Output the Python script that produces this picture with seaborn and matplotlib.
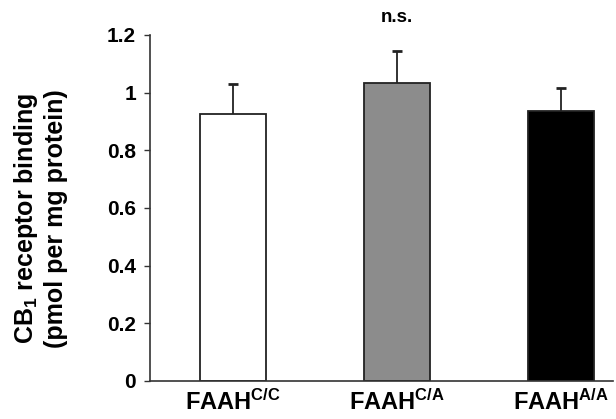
import matplotlib
matplotlib.use('Agg')
import matplotlib.pyplot as plt
import seaborn as sns
import numpy as np
import pandas as pd

# data
genotypes = ['FAAH$^{\\mathbf{C/C}}$', 'FAAH$^{\\mathbf{C/A}}$', 'FAAH$^{\\mathbf{A/A}}$']
binding = [0.925, 1.035, 0.935]
sem = [0.105, 0.11, 0.08]
bar_colors = ['white', '#8c8c8c', 'black']

sns.set_style('white')
plt.rcParams['font.family'] = ['Liberation Sans', 'DejaVu Sans']
plt.rcParams['font.weight'] = 'bold'
plt.rcParams['mathtext.fontset'] = 'custom'
plt.rcParams['mathtext.rm'] = 'Liberation Sans:bold'
plt.rcParams['mathtext.bf'] = 'Liberation Sans:bold'
plt.rcParams['mathtext.it'] = 'Liberation Sans:bold'
plt.rcParams['text.color'] = 'black'
plt.rcParams['axes.labelcolor'] = 'black'
plt.rcParams['xtick.color'] = 'black'
plt.rcParams['ytick.color'] = 'black'

df = pd.DataFrame({'genotype': genotypes, 'binding': binding})

fig = plt.figure(figsize=(6.16, 4.19), dpi=100)
ax = fig.add_axes([0.2435, 0.0907, 0.7515, 0.8258])

sns.barplot(data=df, x='genotype', y='binding', hue='genotype', palette=bar_colors,
            width=0.4, edgecolor='#222222', linewidth=1.3, legend=False, ax=ax)

# upper-only error bars with a cap at the top
x = np.arange(len(binding))
tops = np.array(binding) + np.array(sem)
ax.vlines(x, binding, tops, color='#222222', linewidth=1.3)
ax.plot(x, tops, linestyle='none', marker='_', markersize=7, markeredgewidth=2,
        color='#222222')

ax.set_ylim(0, 1.2)
ax.set_xlim(-0.506, 2.317)
ax.set_yticks([0, 0.2, 0.4, 0.6, 0.8, 1.0, 1.2])
ax.set_yticklabels(['0', '0.2', '0.4', '0.6', '0.8', '1', '1.2'])
ax.tick_params(axis='y', direction='out', length=4, width=1, labelsize=15,
               color='#333333', labelcolor='black', pad=6, left=True)
ax.tick_params(axis='x', length=0, labelsize=17, labelcolor='black', pad=6)
for lab in ax.get_yticklabels() + ax.get_xticklabels():
    lab.set_fontweight('bold')
ax.set_xlabel('')
ax.set_ylabel('CB$_1$ receptor binding\n(pmol per mg protein)', fontsize=18,
              fontweight='bold', color='black')
ax.yaxis.set_label_coords(-0.178, 0.47)
sns.despine(ax=ax)
for s in ['left', 'bottom']:
    ax.spines[s].set_color('#333333')
    ax.spines[s].set_linewidth(1.2)

ax.text(1, 1.26, 'n.s.', ha='center', va='center', fontsize=13.5, fontweight='bold',
        color='black', clip_on=False)

fig.savefig('out.png', dpi=100)
